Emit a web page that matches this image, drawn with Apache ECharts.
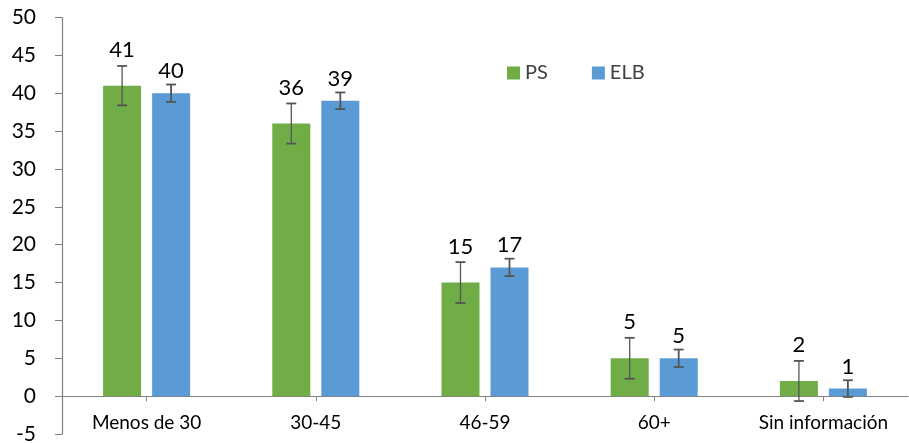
<!DOCTYPE html>
<html>
<head>
<meta charset="utf-8">
<script src="https://cdn.jsdelivr.net/npm/echarts@6/dist/echarts.min.js"></script>
<style>html,body{margin:0;padding:0;background:#fff}#c{width:909px;height:443px}</style>
</head>
<body>
<div id="c"></div>
<script>
var categories = ['Menos de 30', '30-45', '46-59', '60+', 'Sin información'];
var psValues = [41, 36, 15, 5, 2];
var elbValues = [40, 39, 17, 5, 1];
var psError = [2.6, 2.65, 2.7, 2.7, 2.65];
var elbError = [1.15, 1.1, 1.15, 1.15, 1.1];
var yTicks = [-5, 0, 5, 10, 15, 20, 25, 30, 35, 40, 45, 50];

var FONT = 'Lato';
var chart = echarts.init(document.getElementById('c'));

function errData(vals, errs) {
  return vals.map(function (v, i) { return [i, v - errs[i], v + errs[i]]; });
}
function errSeries(name, vals, errs, offset, width) {
  return {
    type: 'custom',
    name: name + ' err',
    z: 5,
    silent: true,
    data: errData(vals, errs),
    renderItem: function (params, api) {
      var lo = api.coord([api.value(0), api.value(1)]);
      var hi = api.coord([api.value(0), api.value(2)]);
      var x = lo[0] + offset;
      var cap = 5;
      var style = { stroke: '#555555', lineWidth: width, fill: null };
      return {
        type: 'group',
        children: [
          { type: 'line', shape: { x1: x, y1: lo[1], x2: x, y2: hi[1] }, style: style },
          { type: 'line', shape: { x1: x - cap, y1: lo[1], x2: x + cap, y2: lo[1] }, style: { stroke: '#555555', lineWidth: 1.8 } },
          { type: 'line', shape: { x1: x - cap, y1: hi[1], x2: x + cap, y2: hi[1] }, style: { stroke: '#555555', lineWidth: 1.8 } }
        ]
      };
    }
  };
}

chart.setOption({
  animation: false,
  textStyle: { fontFamily: FONT },
  grid: { left: 62, right: 1, top: 17.5, bottom: 9, containLabel: false, outerBoundsMode: 'none' },
  legend: {
    data: ['PS', 'ELB'],
    left: 502, top: 58,
    itemWidth: 13, itemHeight: 13, itemGap: 44,
    icon: 'rect',
    textStyle: { fontSize: 20, color: '#404040', fontFamily: FONT }
  },
  xAxis: {
    type: 'category',
    data: categories,
    axisLine: { onZero: true, lineStyle: { color: '#808080', width: 1.2 } },
    axisTick: { show: true, alignWithLabel: true, length: 5, lineStyle: { color: '#808080' } },
    axisLabel: { fontSize: 19, color: '#000', margin: -21, fontFamily: FONT }
  },
  yAxis: {
    type: 'value',
    min: -5, max: 50, interval: 5,
    splitLine: { show: false },
    axisLine: { show: true, lineStyle: { color: '#808080', width: 1.2 } },
    axisTick: { show: true, length: 7, lineStyle: { color: '#808080' } },
    axisLabel: {
      fontSize: 21, color: '#000', margin: 26, fontFamily: FONT,
      formatter: function (v) { return yTicks.indexOf(v) >= 0 ? String(v) : ''; }
    }
  },
  series: [
    {
      name: 'PS', type: 'bar', data: psValues, barWidth: 38, barGap: '29%',
      itemStyle: { color: '#70AD47' },
      label: { show: true, position: 'top', distance: 25, fontSize: 22, color: '#000', fontFamily: FONT }
    },
    {
      name: 'ELB', type: 'bar', data: elbValues, barWidth: 38,
      itemStyle: { color: '#5B9BD5' },
      label: { show: true, position: 'top', distance: 11, fontSize: 22, color: '#000', fontFamily: FONT }
    },
    errSeries('PS', psValues, psError, -24.5, 1.3),
    errSeries('ELB', elbValues, elbError, 24.5, 1.8)
  ]
});
</script>
</body>
</html>
